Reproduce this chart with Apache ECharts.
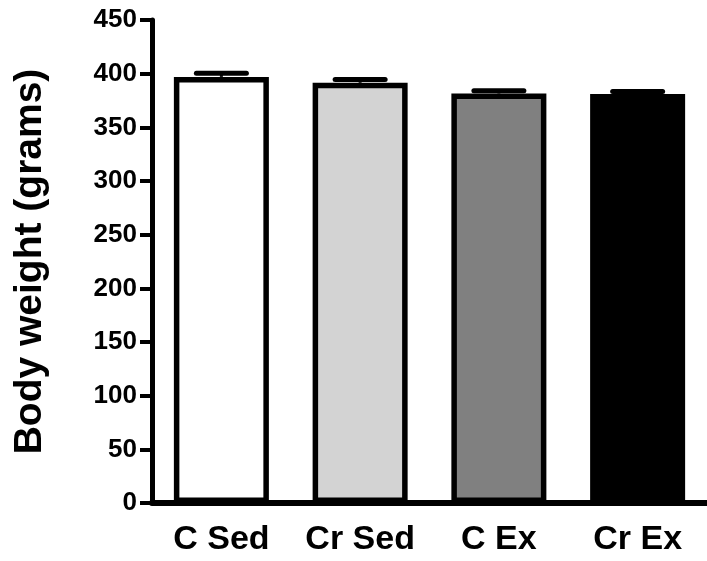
<!DOCTYPE html>
<html>
<head>
<meta charset="utf-8">
<script src="https://cdn.jsdelivr.net/npm/echarts@6/dist/echarts.min.js"></script>
<style>
  html, body { margin: 0; padding: 0; background: #fff; }
  #main { width: 707px; height: 561px; }
</style>
</head>
<body>
<div id="main"></div>
<script>
// 数据
var groups = ['C Sed', 'Cr Sed', 'C Ex', 'Cr Ex'];
var weights = [397, 391.5, 381.5, 381];
var sem = [3.3, 3, 2.7, 2.4];
var barColors = ['#ffffff', '#d3d3d3', '#808080', '#000000'];
var yTicks = { min: 0, max: 450, step: 50 };

var font = "'Liberation Sans', Arial, sans-serif";

var myChart = echarts.init(document.getElementById('main'));

var option = {
    animation: false,
    grid: { left: 152, top: 20, bottom: 58, width: 561 },
    xAxis: {
        type: 'category',
        data: groups,
        axisLine: { lineStyle: { color: '#000', width: 6 } },
        axisTick: { alignWithLabel: true, length: 17, lineStyle: { color: '#000', width: 4 } },
        axisLabel: { interval: 0, color: '#000', fontFamily: font, fontWeight: 'bold', fontSize: 34, margin: 20 }
    },
    yAxis: {
        type: 'value',
        min: yTicks.min,
        max: yTicks.max,
        interval: yTicks.step,
        name: 'Body weight (grams)',
        nameLocation: 'middle',
        nameGap: 102,
        nameTextStyle: { color: '#000', fontFamily: font, fontWeight: 'bold', fontSize: 39 },
        axisLine: { show: true, lineStyle: { color: '#000', width: 5 } },
        axisTick: { show: true, length: 12, lineStyle: { color: '#000', width: 4 } },
        axisLabel: { color: '#000', fontFamily: font, fontWeight: 'bold', fontSize: 26, margin: 15 },
        splitLine: { show: false }
    },
    series: [
        {
            type: 'bar',
            barWidth: 95,
            data: weights.map(function (v, i) {
                return { value: v, itemStyle: { color: barColors[i] } };
            }),
            itemStyle: { borderColor: '#000', borderWidth: 5.5 },
            z: 2
        },
        {
            // 误差线
            type: 'custom',
            data: weights.map(function (v, i) { return [i, v, v + sem[i]]; }),
            renderItem: function (params, api) {
                var base = api.coord([api.value(0), api.value(1)]);
                var top = api.coord([api.value(0), api.value(2)]);
                var half = 25;
                return {
                    type: 'group',
                    children: [
                        {
                            type: 'line',
                            shape: { x1: top[0], y1: base[1], x2: top[0], y2: top[1] },
                            style: { stroke: '#000', lineWidth: 3 }
                        },
                        {
                            type: 'line',
                            shape: { x1: top[0] - half, y1: top[1], x2: top[0] + half, y2: top[1] },
                            style: { stroke: '#000', lineWidth: 5, lineCap: 'round' }
                        }
                    ]
                };
            },
            z: 3
        }
    ]
};

myChart.setOption(option);
</script>
</body>
</html>
